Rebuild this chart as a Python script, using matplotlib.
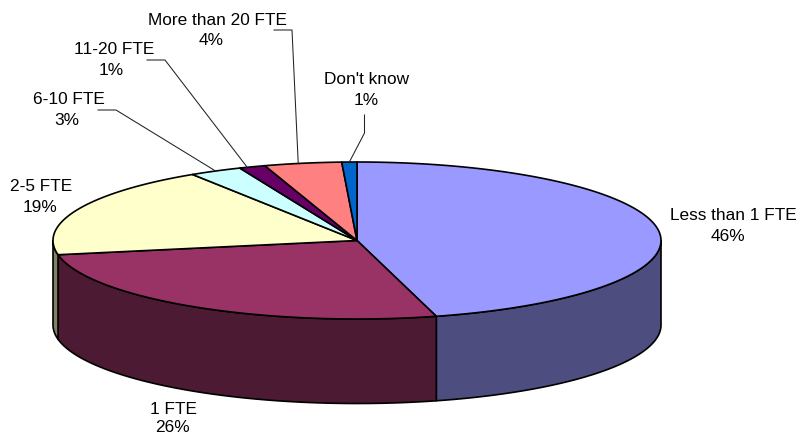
import numpy as np
import matplotlib
matplotlib.use('Agg')
import matplotlib.pyplot as plt

# Slice names, values (percent) and colours, clockwise from 12 o'clock
names = ['Less than 1 FTE', '1 FTE', '2-5 FTE', '6-10 FTE', '11-20 FTE',
         'More than 20 FTE', "Don't know"]
values = [45.8, 26.3, 18.8, 2.8, 1.4, 4.1, 0.8]
top_colors = ['#9999FF', '#993366', '#FFFFCC', '#CCFFFF', '#660066', '#FF8080', '#0066CC']
side_colors = ['#4D4D80', '#4D1A33', '#808066', '#668080', '#330033', '#804040', '#003366']

# Pie geometry in pixels
cx, cy = 357, 240.5
rx, ry = 304, 78.5
depth = 84.5

# Label positions: centre x and baseline y of the name and of the percent line
name_x = [733, 173.3, 41.5, 68.7, 113.7, 218, 367]
pct_x = [728, 172, 40.5, 66.3, 110.7, 211, 365.7]
name_y = [220, 413.5, 191, 104, 54, 25, 84]
pct_y = [241, 432, 212, 125, 75, 45, 105]
# Leader lines (elbow points, the last point is worked out on the rim)
leaders = {3: [(98, 110), (116, 110)],
           4: [(147, 60), (165, 60)],
           5: [(274, 30), (292, 30)],
           6: [(364.5, 115), (364.5, 133)]}
# How far along its slice each leader meets the rim
leader_frac = {3: 0.5, 4: 0.3, 5: 0.44, 6: 0.5}


def rim(t):
    # t is degrees clockwise from the top of the ellipse
    t = np.radians(t)
    return cx + rx * np.sin(t), cy - ry * np.cos(t)


fig = plt.figure(figsize=(7.97, 4.34), dpi=100)
ax = fig.add_axes([0, 0, 1, 1])
ax.set_xlim(0, 797)
ax.set_ylim(434, 0)
ax.axis('off')

edges = np.cumsum([0] + values) / sum(values) * 360

# Side wall first, only the front half of the ellipse shows
for i in range(len(values)):
    t1 = max(edges[i], 90)
    t2 = min(edges[i + 1], 270)
    if t2 <= t1:
        continue
    t = np.linspace(t1, t2, 120)
    x, y = rim(t)
    xs = np.concatenate([x, x[::-1]])
    ys = np.concatenate([y, y[::-1] + depth])
    ax.fill(xs, ys, facecolor=side_colors[i], edgecolor='black', linewidth=1.2, joinstyle='round')

# Top face
for i in range(len(values)):
    t = np.linspace(edges[i], edges[i + 1], 120)
    x, y = rim(t)
    xs = np.concatenate([[cx], x])
    ys = np.concatenate([[cy], y])
    ax.fill(xs, ys, facecolor=top_colors[i], edgecolor='black', linewidth=1.2, joinstyle='round')

# Leader lines
for i, pts in leaders.items():
    end = rim(edges[i] + leader_frac[i] * (edges[i + 1] - edges[i]))
    lx = [p[0] for p in pts] + [end[0]]
    ly = [p[1] for p in pts] + [end[1]]
    ax.plot(lx, ly, color='#222222', linewidth=0.75)

# Labels, name and percent placed apart because they are not quite centred on each other
for i, name in enumerate(names):
    ax.text(name_x[i], name_y[i], name, ha='center', va='baseline', fontsize=12.4,
            color='black', family='Liberation Sans')
    ax.text(pct_x[i], pct_y[i], '%d%%' % round(values[i]), ha='center', va='baseline',
            fontsize=12.4, color='black', family='Liberation Sans')

fig.savefig('out.png', dpi=100)
